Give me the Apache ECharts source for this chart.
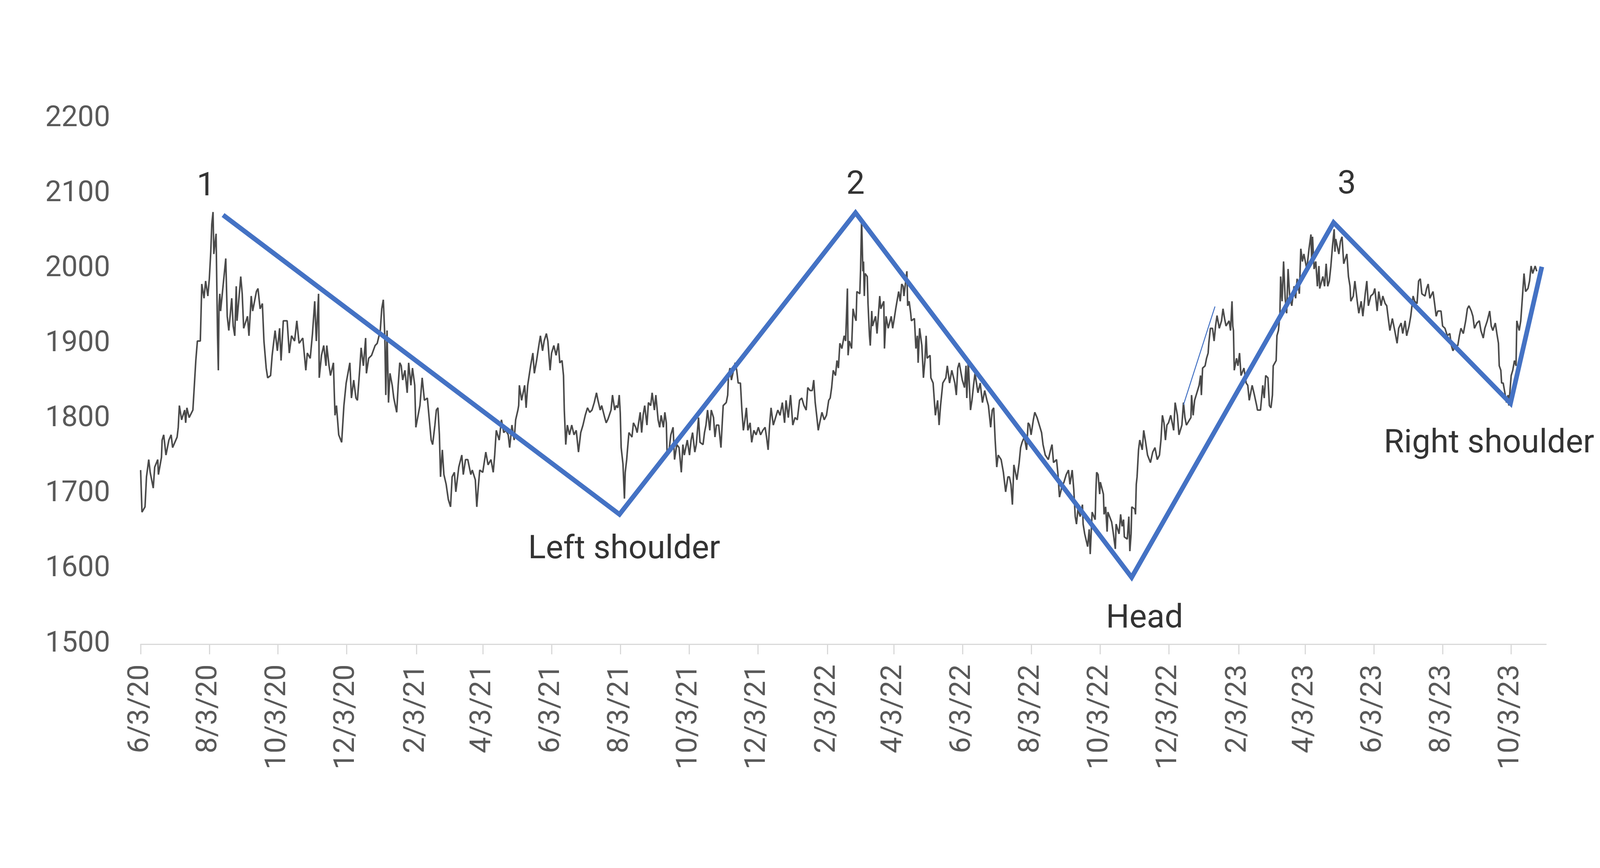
<!DOCTYPE html>
<html>
<head>
<meta charset="utf-8">
<script src="https://cdn.jsdelivr.net/npm/echarts@6/dist/echarts.min.js"></script>
<style>
html,body{margin:0;padding:0;background:#ffffff;}
#chart{width:4134px;height:2222px;}
</style>
</head>
<body>
<div id="chart"></div>
<script>
// ---- data ----
const startDate = '2020-06-03';
const tickDates = ['2020-06-03','2020-08-03','2020-10-03','2020-12-03','2021-02-03','2021-04-03','2021-06-03','2021-08-03','2021-10-03','2021-12-03','2022-02-03','2022-04-03','2022-06-03','2022-08-03','2022-10-03','2022-12-03','2023-02-03','2023-04-03','2023-06-03','2023-08-03','2023-10-03'];
const yTicks = [1500,1600,1700,1800,1900,2000,2100,2200];

// price: days after 6/3/20, and price
const priceDays = [
0,1.2,3.9,5.2,7.2,8.5,11.2,12.5,15.2,15.8,18.5,19.1,20.5,22.5,25.1,27.1,28.4,32.4,33.4,34.4,36.4,39.1,40,41.1,43.1,46.4,47.7,49,50.4,53,53.7,54.3,56.3,57.7,59.7,61,62.3,63.2,64.3,65,67,68.3,69,69.6,70.3,71,74.3,75.6,76.9,78.3,80.9,82.2,83.6,84.9,85.6,88.2,88.9,90.2,91.5,94.9,96.2,98.2,99.5,102.8,104.2,106.1,108.1,109.5,111.5,112.8,115.4,116.8,119.4,121.4,123.4,124.7,126.7,130.1,132,134,136.7,138.7,140.7,144,146.7,148,150.6,152.6,154.6,156,158,158.6,160.6,162.6,164.6,165.3,167.3,168.6,171.2,171.9,172.6,173.9,175.9,178.5,180.5,182.5,185.8,187.2,189.2,191.2,192.5,194.5,195.8,197.8,199.8,200.5,202.5,205.1,
208.2,210.1,212.8,214.1,215.5,216.8,217.7,218.8,220.1,221.4,223.4,224.8,227.4,228.7,230.1,231.4,232.7,234.7,236.7,238,240,241.4,243.4,244.4,246,248,250,252,254.6,256.6,258,259.3,261.3,262.6,264,265.3,266.3,267.9,269.3,271.3,273.2,275.2,276.6,278.6,279.9,282.5,285.2,286.5,288.5,290.5,293.2,294.5,297.2,298.5,299.8,301.1,303.8,306.5,308.5,311.1,313.1,314.4,315.8,318.4,320.4,322.4,324.4,326.4,327.7,329.7,331.7,333,335,335.7,336.3,338.3,341,342.3,343.7,346.3,348.3,349.6,351.6,353.6,355,356.9,358.3,360.3,361.6,363.6,364.9,366.9,368.9,370.9,372.2,374.2,375.5,376.2,377.5,378.9,380.8,382.8,384.8,386.8,388.8,390.8,392.8,394.8,396.8,398.8,400.8,402.8,404.8,406.1,408.1,409.4,412.1,413.4,
415,417.7,419,421,422.3,423.7,425,425.9,426.7,428.3,429.6,430.3,431.6,432.3,433.6,436.3,437.6,439.6,440.9,443.6,444.9,446.2,447.6,449.6,450.9,452.9,454.2,456.2,457.5,459.5,460.9,462.2,464.2,465.5,466.8,467.5,469.5,470.8,472.8,474.1,476.1,478.1,480.1,481.5,482.8,485.4,487.4,488.8,490.1,492.1,493.4,495.4,496.7,499.4,500.7,502,503.4,505.4,506.7,508.7,510,511.3,513.3,515.3,516.6,517.3,520,521.3,522,523.3,524.6,525.9,527.9,529.3,530.6,532.6,533.9,535.2,536.6,537.9,539.2,541.2,542.6,544.5,546.5,548.5,550.5,552.5,554.5,555.8,557.2,558.5,559.8,561.8,563.8,565.8,567.8,569.8,571.8,573.1,575.1,577.1,579.1,581.1,583.1,585.1,587.1,589,591,592.4,594.4,596.4,597.7,599,600.3,601.7,603,605,607,609,611,612.3,613.6,615,617,618.3,619.6,620.9,
622.7,624.7,626,627.6,628.2,629.3,631.3,632.6,634,635.3,636,638.6,639.3,640.2,640.6,641.3,641.9,642.6,643.3,645.2,645.9,647.2,647.9,649.2,649.9,652.6,653.9,655.2,656.3,657.2,659.9,660.5,661.9,663.8,666.5,667.8,669.2,670.5,673.1,674.5,675.8,677.1,677.8,680.4,681.1,682.4,683.8,684.4,687.1,688.4,689.7,690.4,691.7,693.7,695.1,696.4,697.5,698.4,701,701.7,703.7,705.7,707.7,709,710.3,712.3,715,716.3,718.3,720.3,723,724.3,725.6,726.9,729.6,731.6,732.9,733.6,734.9,736.9,738.2,739.6,740.9,743.5,745.5,747.5,749.5,751.5,752.8,754.8,756.2,757.5,758.8,760.2,761.5,764.1,766.1,768.1,770.1,771.4,772.8,774.1,775.4,778.1,780.1,781.4,782.7,784.7,786.7,788.1,789.4,790.7,792.7,794,796,798,800,801.3,803.3,806,808,809.3,810.6,813.3,814.6,815.9,817.9,819.9,821.9,823.9,825.2,827.2,828.6,829.9,
831,832.3,834.3,836.3,836.9,838.3,840.9,842.3,843.2,844.2,844.9,847.6,848.2,848.9,850.2,851.6,852.2,854.9,855.5,856.9,858.2,858.9,862.2,863.5,865.5,866.2,868.8,870.2,871.5,872.8,873.5,876.1,877.5,878.4,879.5,880.1,882.8,883.4,884.1,884.8,886.1,887.2,889.4,890.7,892.1,894.1,896.7,898.7,900.7,902.7,904.7,906,907.3,908.7,910,911.3,912.7,914.7,917.3,918.6,920.6,922,924.6,926,927.3,928.6,932.6,933.2,934.6,935.9,939.9,941.2,941.9,943,945.2,946.5,947.9,948.5,949.9,951.8,953.2,954.5,955.8,957.8,959.8,961.1,962.5,963.8,966.5,967.8,969.1,969.8,970.4,971.1,973.1,974.4,975.8,977.1,979.7,981.7,983.1,984.4,987,989,991,991.7,994.4,996.4,997.7,999,1001,1002.3,1003.7,1005,1005.7,1008.3,1009,1010.3,1011.6,1012.3,1013.6,1014.9,1016.3,1017.6,1018.9,1020.3,1022.2,1024.2,1025.6,1026.9,1028.9,1030.2,1031.6,1032.9,1035.5,1037.5,
1039.2,1039.9,1040.6,1042,1043.5,1044.9,1046.3,1047,1049.8,1051.3,1052.7,1054.1,1055.5,1056.9,1058.3,1059.8,1060.5,1061.2,1064,1065.4,1066.8,1068.3,1071.1,1072.5,1073.9,1074.6,1076.8,1078.2,1080.3,1081.7,1083.8,1085.3,1087.4,1088.8,1090.2,1092.3,1094.5,1095.9,1098,1099.4,1101.5,1103,1105.1,1106.5,1107.9,1109.3,1111.5,1113.6,1115.7,1117.1,1119.3,1120.7,1122.8,1124.2,1126.3,1127.8,1129.9,1131.3,1133.4,1134.8,1136.3,1137.7,1140.5,1141.9,1143.3,1144.8,1147.6,1149,1150.4,1151.8,1154.7,1156.1,1158.2,1160.3,1162.5,1163.9,1165.3,1167.4,1169.6,1171,1172.4,1174.5,1176.6,1178.1,1179.5,1181.6,1183,1184.4,1186.6,1188.7,1190.1,1192.2,1193.6,1195.8,1197.9,1199.3,1200.7,1202.9,1204.3,1205.7,1206.4,1207.8,1208.5,1209.9,1211.4,1212.8,1214.2,1214.9,1217,1218.4,1219.9,1221.3,1222,1224.1,1225.5,1226.9,1228.4,1229.8,1231.9,1233.3,1234.7,1236.1,1238.3,1239.7
];
const priceValues = [
1732,1676,1683,1723,1746,1729,1708,1736,1746,1726,1749,1772,1779,1752,1772,1779,1762,1776,1789,1818,1799,1812,1795,1815,1802,1812,1845,1878,1904,1904,1944,1980,1961,1984,1964,1987,2023,2060,2076,2020,2047,1911,1865,1951,1967,1944,1994,2014,1937,1918,1961,1924,1911,1977,1931,1977,1990,1967,1921,1937,1911,1964,1944,1970,1974,1947,1954,1904,1868,1855,1858,1885,1918,1891,1921,1878,1931,1931,1888,1911,1904,1931,1901,1908,1865,1888,1881,1914,1957,1904,1967,1855,1885,1898,1871,1898,1871,1858,1875,1838,1805,1818,1779,1769,1818,1848,1875,1828,1852,1828,1825,1865,1895,1871,1908,1861,1881,1885,
1898,1901,1918,1947,1959,1911,1832,1918,1822,1861,1845,1828,1809,1845,1875,1871,1852,1865,1835,1875,1845,1868,1845,1789,1802,1818,1855,1825,1828,1795,1772,1766,1792,1812,1815,1779,1723,1759,1726,1713,1693,1683,1723,1729,1703,1736,1752,1726,1746,1746,1726,1732,1719,1683,1709,1732,1729,1756,1739,1746,1729,1752,1785,1772,1799,1782,1785,1779,1762,1792,1772,1799,1812,1818,1845,1825,1845,1815,1845,1871,1888,1861,1878,1898,1911,1891,1904,1914,1904,1865,1888,1898,1885,1901,1875,1878,1858,1812,1766,1792,1779,1792,1779,1785,1756,1782,1792,1805,1815,1809,1812,1822,1835,1825,1812,1818,1802,1795,
1800,1812,1832,1812,1818,1815,1832,1808,1762,1740,1694,1729,1746,1759,1782,1776,1795,1789,1782,1809,1782,1805,1818,1792,1822,1818,1835,1812,1832,1799,1789,1805,1789,1809,1795,1752,1762,1779,1789,1746,1766,1762,1729,1766,1752,1772,1752,1772,1782,1756,1766,1802,1769,1766,1782,1792,1812,1785,1812,1802,1776,1792,1792,1762,1799,1818,1822,1832,1858,1868,1852,1861,1875,1865,1848,1848,1812,1785,1799,1815,1785,1795,1769,1785,1779,1789,1779,1785,1789,1776,1759,1792,1815,1792,1802,1812,1805,1822,1795,1825,1802,1832,1792,1802,1799,1825,1828,1818,1812,1842,1838,1838,1852,1822,1805,1785,1795,1809,1799,1805,1825,1828,1842,1865,1858,1878,1868,1901,
1894,1911,1904,1974,1885,1904,1894,1947,1937,1931,1970,1967,2000,2066,2043,1997,2010,1964,1994,1990,1954,1911,1898,1944,1924,1937,1914,1941,1964,1947,1957,1894,1937,1921,1937,1921,1934,1947,1970,1957,1980,1977,1964,1997,1951,1957,1941,1931,1934,1894,1911,1875,1921,1898,1855,1878,1911,1881,1885,1855,1848,1805,1825,1792,1818,1848,1855,1871,1848,1865,1848,1832,1868,1875,1852,1842,1871,1828,1878,1812,1825,1845,1861,1835,1848,1822,1838,1825,1818,1789,1812,1815,1772,1736,1752,1746,1729,1703,1723,1723,1713,1686,1739,1719,1742,1762,1769,1776,1759,1795,1792,1779,1799,1809,1802,1792,1782,1766,1752,1746,1759,1766,1742,1746,1726,1696,1709,1716,1726,1732,1713,1732,1706,1670,
1660,1680,1670,1686,1660,1647,1630,1653,1620,1653,1676,1666,1703,1729,1726,1700,1716,1700,1673,1683,1650,1676,1663,1650,1627,1660,1647,1673,1657,1666,1643,1640,1670,1624,1647,1683,1680,1673,1713,1723,1759,1772,1759,1785,1772,1752,1742,1756,1762,1746,1752,1772,1805,1795,1772,1792,1795,1805,1785,1822,1805,1779,1792,1822,1802,1792,1802,1832,1805,1825,1845,1858,1832,1868,1871,1881,1888,1901,1921,1921,1904,1924,1938,1921,1931,1947,1934,1924,1931,1918,1957,1924,1918,1865,1881,1871,1888,1858,1868,1848,1845,1825,1845,1832,1818,1812,1812,1845,1828,1858,1855,1818,1815,1832,1871,1878,1911,1918,1938,1990,1957,2010,1961,1941,2000,1964,1951,1977,1961,1987,1967,2027,2010,2020,2000,2027,
2046,2010,2043,2000,2010,1977,2004,1974,1990,1977,2007,1977,1984,2004,2030,2053,2023,2040,2020,2037,2043,2007,2020,1990,1977,1957,1964,1984,1957,1941,1957,1937,1967,1984,1951,1964,1967,1974,1944,1970,1951,1964,1954,1951,1934,1918,1934,1918,1901,1921,1928,1914,1931,1911,1924,1937,1964,1957,1954,1984,1987,1967,1964,1974,1980,1961,1970,1954,1937,1944,1944,1924,1921,1911,1914,1898,1891,1898,1898,1911,1921,1914,1931,1947,1951,1944,1937,1921,1928,1931,1918,1908,1921,1931,1944,1924,1918,1928,1914,1901,1871,1865,1848,1848,1835,1822,1832,1818,1858,1865,1878,1871,1931,1918,1931,1961,1994,1970,1974,1984,2004,1994,2004,1997
];

// head-and-shoulders outline
const patternDays = [73.2, 425.2, 634.8, 880, 1059.3, 1216.4, 1244.2];
const patternValues = [2072, 1673, 2075, 1589, 2062, 1821, 2003];
const patternNames = ['1', 'Left shoulder', '2', 'Head', '3', 'Right shoulder', ''];

// thin trend stroke
const thinDays = [926, 954];
const thinValues = [1819, 1950];

// ---- build ----
const DAY = 86400000;
function parseD(s){ const p = s.split('-').map(Number); return Date.UTC(p[0], p[1]-1, p[2]); }
const t0 = parseD(startDate);
const tickDays = tickDates.map(s => Math.round((parseD(s) - t0) / DAY));
const tickText = {};
tickDates.forEach((s, i) => {
  const p = s.split('-').map(Number);
  tickText[tickDays[i]] = p[1] + '/' + p[2] + '/' + String(p[0]).slice(2);
});

const labelOffsets = [[-44,-71],[12,91],[0,-70],[33,107],[34,-96],[-55,105],[0,0]];

const pricePairs = priceDays.map((d, i) => [d, priceValues[i]]);
const patternPairs = patternDays.map((d, i) => [d, patternValues[i]]);
const thinPairs = thinDays.map((d, i) => [d, thinValues[i]]);
const annot = patternDays.map((d, i) => ({
  value: [d, patternValues[i]],
  name: patternNames[i],
  label: { offset: labelOffsets[i] }
})).filter(o => o.name);

const chart = echarts.init(document.getElementById('chart'), null, { renderer: 'canvas' });
chart.setOption({
  animation: false,
  backgroundColor: '#ffffff',
  grid: { left: 360, right: 176, top: 304.5, bottom: 573, containLabel: false },
  xAxis: {
    type: 'value', min: 0, max: 1248,
    axisLine: { show: true, onZero: false, lineStyle: { color: '#D9D9D9', width: 3 } },
    axisTick: { show: true, customValues: tickDays, length: 26, lineStyle: { color: '#D9D9D9', width: 3 } },
    axisLabel: {
      customValues: tickDays, rotate: 90, margin: 52,
      fontSize: 74, fontFamily: 'Roboto', color: '#595959',
      formatter: v => tickText[Math.round(v)] || ''
    },
    splitLine: { show: false }
  },
  yAxis: {
    type: 'value', min: yTicks[0], max: yTicks[yTicks.length-1], interval: 100,
    axisLine: { show: false }, axisTick: { show: false }, splitLine: { show: false },
    axisLabel: { margin: 78, fontSize: 74, fontFamily: 'Roboto', color: '#595959', formatter: v => String(v) }
  },
  series: [
    {
      name: 'Price', type: 'line', data: pricePairs, symbol: 'none', z: 2,
      lineStyle: { color: '#4a4a4a', width: 4 }
    },
    {
      name: 'Pattern', type: 'line', data: patternPairs, symbol: 'none', z: 3,
      lineStyle: { color: '#4472C4', width: 12, join: 'miter' }
    },
    {
      name: 'Thin', type: 'line', data: thinPairs, symbol: 'none', z: 3,
      lineStyle: { color: '#4472C4', width: 2.5 }
    },
    {
      name: 'Labels', type: 'scatter', data: annot, symbolSize: 1, z: 4,
      itemStyle: { color: 'rgba(0,0,0,0)' },
      label: {
        show: true, position: 'inside', align: 'center', verticalAlign: 'middle',
        fontSize: 84, fontFamily: 'Roboto', color: '#000000',
        formatter: p => p.name
      }
    }
  ]
});
</script>
</body>
</html>
